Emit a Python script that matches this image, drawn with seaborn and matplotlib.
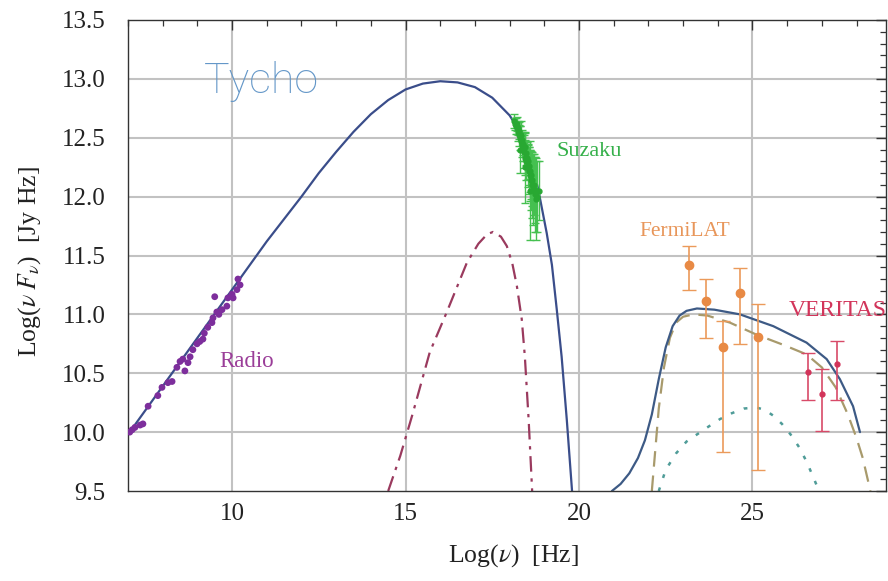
import numpy as np
import pandas as pd
import matplotlib
matplotlib.use("Agg")
import matplotlib.pyplot as plt
from matplotlib.ticker import MultipleLocator, FormatStrFormatter
import seaborn as sns

# ---- data ----
radio_x = [7.05, 7.12, 7.2, 7.35, 7.43, 7.58, 7.86, 7.98, 8.15, 8.27, 8.41, 8.58, 8.64,
           8.73, 8.79, 8.87, 8.99, 9.07, 9.16, 9.3, 9.42, 9.45, 9.5, 9.56, 9.71, 9.85,
           9.88, 10.0, 10.03, 10.14, 10.17, 10.23, 8.5, 9.2, 9.62]
radio_y = [10.00, 10.02, 10.04, 10.06, 10.07, 10.22, 10.31, 10.38, 10.42, 10.43, 10.55,
           10.62, 10.52, 10.59, 10.64, 10.70, 10.75, 10.77, 10.79, 10.89, 10.93, 10.97,
           11.15, 11.02, 11.04, 11.07, 11.14, 11.17, 11.14, 11.21, 11.30, 11.25, 10.60,
           10.84, 11.0]

suzaku_x = [18.12, 18.15, 18.18, 18.2, 18.22, 18.24, 18.25, 18.27, 18.28, 18.3, 18.32,
            18.33, 18.35, 18.36, 18.38, 18.4, 18.42, 18.43, 18.45, 18.46, 18.48, 18.5,
            18.52, 18.53, 18.55, 18.56, 18.58, 18.6, 18.62, 18.63, 18.65, 18.66, 18.68,
            18.7, 18.72, 18.74, 18.76, 18.8, 18.84, 18.3, 18.45, 18.6]
suzaku_y = [12.64, 12.62, 12.60, 12.58, 12.62, 12.55, 12.58, 12.52, 12.56, 12.50, 12.47,
            12.52, 12.44, 12.48, 12.42, 12.45, 12.38, 12.42, 12.33, 12.37, 12.30, 12.33,
            12.26, 12.30, 12.22, 12.26, 12.18, 12.22, 12.14, 12.18, 12.10, 12.14, 12.06,
            12.10, 12.02, 12.06, 11.98, 12.0, 12.05, 12.40, 12.25, 12.05]
suzaku_err = [0.06, 0.05, 0.07, 0.05, 0.06, 0.08, 0.06, 0.09, 0.07, 0.1, 0.08, 0.12,
              0.1, 0.09, 0.12, 0.1, 0.14, 0.12, 0.15, 0.1, 0.16, 0.13, 0.18, 0.15,
              0.2, 0.16, 0.22, 0.18, 0.25, 0.2, 0.28, 0.22, 0.3, 0.26, 0.32, 0.28,
              0.35, 0.3, 0.25, 0.2, 0.3, 0.42]

fermi_x = [23.17, 23.66, 24.15, 24.64, 25.16]
fermi_y = [11.42, 11.11, 10.72, 11.18, 10.81]
fermi_lo = [11.21, 10.80, 9.83, 10.75, 9.68]
fermi_hi = [11.58, 11.30, 10.94, 11.39, 11.09]

veritas_x = [26.6, 27.0, 27.43]
veritas_y = [10.51, 10.32, 10.58]
veritas_lo = [10.27, 10.01, 10.27]
veritas_hi = [10.67, 10.54, 10.77]

# model curves
sync_x = [7.0, 8.0, 9.0, 10.0, 11.0, 12.0, 12.5, 13.0, 13.5, 14.0, 14.5, 15.0, 15.5,
          16.0, 16.5, 17.0, 17.5, 18.0, 18.3, 18.58, 18.82, 19.07, 19.22, 19.36, 19.5,
          19.65, 19.8]
sync_y = [9.98, 10.39, 10.8, 11.21, 11.62, 12.0, 12.2, 12.38, 12.55, 12.7, 12.82, 12.91,
          12.96, 12.98, 12.97, 12.93, 12.84, 12.69, 12.55, 12.34, 12.07, 11.69, 11.42,
          11.04, 10.64, 10.1, 9.5]

ic_tot_x = [20.95, 21.2, 21.45, 21.7, 21.9, 22.1, 22.3, 22.5, 22.7, 22.9, 23.1, 23.4,
            23.9, 24.64, 25.6, 26.56, 27.14, 27.52, 27.9, 28.1]
ic_tot_y = [9.5, 9.56, 9.65, 9.78, 9.93, 10.15, 10.45, 10.72, 10.9, 10.99, 11.03, 11.05,
            11.04, 11.0, 10.9, 10.76, 10.62, 10.45, 10.22, 10.0]

thermal_x = [14.5, 14.85, 15.2, 15.7, 16.19, 16.77, 17.1, 17.35, 17.52, 17.75, 17.92,
             18.08, 18.21, 18.35, 18.44, 18.55, 18.65]
thermal_y = [9.5, 9.8, 10.15, 10.68, 11.02, 11.44, 11.6, 11.68, 11.7, 11.66, 11.58,
             11.43, 11.24, 10.96, 10.64, 10.1, 9.5]

ic_x = [22.1, 22.2, 22.3, 22.45, 22.62, 22.8, 23.0, 23.3, 23.7, 24.35, 25.1, 25.9,
        26.56, 27.0, 27.4, 27.75, 28.0, 28.18, 28.4]
ic_y = [9.5, 9.85, 10.2, 10.55, 10.8, 10.93, 10.98, 11.0, 10.99, 10.93, 10.83, 10.74,
        10.66, 10.55, 10.38, 10.15, 9.95, 9.78, 9.5]

pi0_x = [22.3, 22.5, 22.8, 23.1, 23.4, 23.75, 24.06, 24.4, 24.75, 25.1, 25.35, 25.6,
         25.85, 26.1, 26.35, 26.56, 26.75, 26.92]
pi0_y = [9.5, 9.68, 9.82, 9.92, 9.98, 10.05, 10.11, 10.16, 10.2, 10.21, 10.19, 10.14,
         10.07, 9.98, 9.87, 9.75, 9.62, 9.5]

# ---- style ----
sns.set_theme(style="white")
plt.rcParams['font.family'] = ['Liberation Serif', 'DejaVu Serif']
plt.rcParams['mathtext.fontset'] = 'stix'

fig = plt.figure(figsize=(8.88, 5.81), dpi=100)
ax = fig.add_axes([128 / 888, 1 - 491 / 581, 758 / 888, 471 / 581])

for gx in [10, 15, 20, 25]:
    ax.axvline(gx, color="#c2c2c2", lw=1.5, zorder=0)
for gy in [10.0, 10.5, 11.0, 11.5, 12.0, 12.5, 13.0]:
    ax.axhline(gy, color="#c2c2c2", lw=1.5, zorder=0)

sns.lineplot(x=thermal_x, y=thermal_y, ax=ax, color="#9a3a5e", lw=1.6,
             sort=False, estimator=None)
ax.lines[-1].set_dashes([7, 3, 1.5, 3])
sns.lineplot(x=ic_x, y=ic_y, ax=ax, color="#a89a6c", lw=1.6, sort=False, estimator=None)
ax.lines[-1].set_dashes([7, 4])
sns.lineplot(x=pi0_x, y=pi0_y, ax=ax, color="#4f9c98", lw=1.8, sort=False, estimator=None)
ax.lines[-1].set_dashes([1.5, 4])
sns.lineplot(x=sync_x, y=sync_y, ax=ax, color="#3a4d8a", lw=1.6, sort=False, estimator=None)
sns.lineplot(x=ic_tot_x, y=ic_tot_y, ax=ax, color="#3d5a85", lw=1.6, sort=False, estimator=None)

sns.scatterplot(x=radio_x, y=radio_y, ax=ax, color="#7d2e9c", s=24, edgecolor="none", zorder=5)

ax.errorbar(suzaku_x, suzaku_y, yerr=suzaku_err, fmt='o', ms=3.5, color="#28a832",
            ecolor="#45c050", elinewidth=1.0, capsize=3, zorder=4)

f_err = [np.subtract(fermi_y, fermi_lo), np.subtract(fermi_hi, fermi_y)]
ax.errorbar(fermi_x, fermi_y, yerr=f_err, fmt='o', ms=6, color="#e88a45",
            ecolor="#eb9a5a", elinewidth=1.2, capsize=5, zorder=4)
v_err = [np.subtract(veritas_y, veritas_lo), np.subtract(veritas_hi, veritas_y)]
ax.errorbar(veritas_x, veritas_y, yerr=v_err, fmt='o', ms=3.5, color="#d2345a",
            ecolor="#d84a68", elinewidth=1.2, capsize=5, zorder=4)

ax.text(9.62, 10.6, "Radio", color="#9a3d98", fontsize=16.5, va="center")
ax.text(19.36, 12.38, "Suzaku", color="#35b04a", fontsize=16, va="center")
ax.text(21.75, 11.7, "FermiLAT", color="#e8965a", fontsize=15.5, va="center")
ax.text(26.05, 11.03, "VERITAS", color="#d2345a", fontsize=17, va="center")
ax.text(9.2, 12.98, "Tycho", color="#6497c8", fontsize=31, va="center",
        family="Roboto", fontweight="light")

ax.set_xlim(7, 28.85)
ax.set_ylim(9.5, 13.5)
ax.xaxis.set_major_locator(MultipleLocator(5))
ax.xaxis.set_minor_locator(MultipleLocator(1))
ax.yaxis.set_major_locator(MultipleLocator(0.5))
ax.yaxis.set_minor_locator(MultipleLocator(0.1))
ax.yaxis.set_major_formatter(FormatStrFormatter('%.1f'))
ax.tick_params(which="both", direction="in", top=True, right=True, color="#333333",
               labelsize=18, labelcolor="#222222")
ax.tick_params(which="major", length=7, width=1.0)
ax.tick_params(which="minor", length=4, width=0.9)
ax.tick_params(axis="x", pad=9)
ax.tick_params(axis="y", pad=16)
for sp in ax.spines.values():
    sp.set_color("#333333")
    sp.set_linewidth(1.0)

ax.set_xlabel(r"Log($\nu$)  [Hz]", fontsize=18.5, color="#222222")
ax.set_ylabel(r"Log($\nu\;F_{\nu}$)  [Jy Hz]", fontsize=18.5, color="#222222")
ax.xaxis.set_label_coords(0.508, -0.108)
ax.yaxis.set_label_coords(-0.112, 0.486)

fig.savefig("out.png", dpi=100)
